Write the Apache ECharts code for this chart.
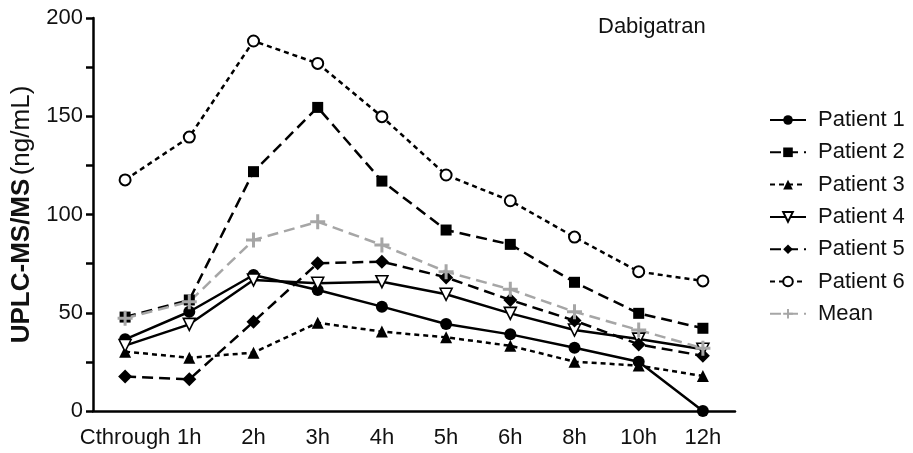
<!DOCTYPE html>
<html>
<head>
<meta charset="utf-8">
<script src="https://cdn.jsdelivr.net/npm/echarts@6/dist/echarts.min.js"></script>
<style>html,body{margin:0;padding:0;background:#fff}#c{width:913px;height:453px}</style>
</head>
<body>
<div id="c"></div>
<script>
const categories = ['Cthrough','1h','2h','3h','4h','5h','6h','8h','10h','12h'];
const patient1 = [36.5, 50.5, 69.2, 61.6, 53.1, 44.3, 39.0, 32.2, 25.1, 0];
const patient2 = [47.8, 56.5, 121.8, 154.5, 117.0, 92.1, 84.8, 65.5, 49.7, 42.1];
const patient3 = [30.2, 27.1, 29.7, 44.9, 40.4, 37.5, 33.2, 25.1, 23.1, 17.8];
const patient4 = [33.3, 44.1, 66.7, 65.0, 65.8, 59.4, 49.7, 41.2, 36.6, 31.4];
const patient5 = [17.5, 16.1, 45.4, 75.2, 76.0, 68.0, 56.5, 46.0, 33.9, 28.1];
const patient6 = [117.6, 139.4, 188.3, 176.9, 149.8, 120.1, 107.0, 88.5, 70.9, 66.2];
const meanVals = [47.2, 55.6, 87.0, 96.3, 84.5, 70.9, 61.9, 50.5, 41.2, 31.9];
const yTicks = [0, 50, 100, 150, 200];

const FONT = 'Liberation Sans, Arial, sans-serif';
const PLUS = 'path://M4,0 H6 V4 H10 V6 H6 V10 H4 V6 H0 V4 H4 Z';

function mk(name, data, opts) {
  return Object.assign({
    name: name,
    type: 'line',
    data: data,
    symbolSize: 10,
    lineStyle: { color: '#000', width: 2.5, type: opts.dash || 'solid' },
    itemStyle: { color: '#000', borderColor: '#000', borderWidth: 0 },
    emphasis: { disabled: true },
    animation: false
  }, opts.extra || {});
}

const series = [
  mk('Patient 1', patient1, { extra: { symbol: 'circle', symbolSize: 12 } }),
  mk('Patient 2', patient2, { dash: [11, 6], extra: { symbol: 'rect', symbolSize: 11 } }),
  mk('Patient 3', patient3, { dash: [5, 4], extra: { symbol: 'triangle', symbolSize: 12 } }),
  mk('Patient 4', patient4, { extra: { symbol: 'triangle', symbolRotate: 180, symbolSize: 12,
      itemStyle: { color: '#fff', borderColor: '#000', borderWidth: 1.6 } } }),
  mk('Patient 5', patient5, { dash: [11, 6], extra: { symbol: 'diamond', symbolSize: 14 } }),
  mk('Patient 6', patient6, { dash: [5, 4], extra: { symbol: 'emptyCircle', symbolSize: 11,
      itemStyle: { color: '#000', borderColor: '#000', borderWidth: 2.4 } } }),
  mk('Mean', meanVals, { dash: [11, 6], extra: { symbol: PLUS, symbolSize: 15,
      lineStyle: { color: '#a6a6a6', width: 2.5, type: [11, 6] },
      itemStyle: { color: '#a6a6a6', borderWidth: 0 } } })
];

const chart = echarts.init(document.getElementById('c'));
chart.setOption({
  backgroundColor: '#fff',
  animation: false,
  textStyle: { fontFamily: FONT },
  title: {
    text: 'Dabigatran', left: 593, top: 11,
    textStyle: { fontFamily: FONT, fontSize: 22, fontWeight: 'normal', color: '#111' }
  },
  legend: {
    orient: 'vertical', left: 764, top: 104,
    itemWidth: 36, itemHeight: 12, itemGap: 10.3,
    textStyle: { fontFamily: FONT, fontSize: 22, color: '#111', padding: [0, 0, 0, 7] },
    data: series.map(s => s.name)
  },
  grid: { left: 93, right: 178, top: 18, bottom: 42, containLabel: false },
  xAxis: {
    type: 'category', data: categories, boundaryGap: true,
    axisLine: { lineStyle: { color: '#000', width: 2.5 } },
    axisTick: { alignWithLabel: true, length: 7, lineStyle: { color: '#000', width: 2.5 } },
    axisLabel: { fontFamily: FONT, fontSize: 22, color: '#111', margin: 16, interval: 0 },
    splitLine: { show: false }
  },
  yAxis: {
    type: 'value', min: yTicks[0], max: yTicks[yTicks.length - 1], interval: 50,
    name: '{b|UPLC-MS/MS} {n|(ng/mL)}',
    nameLocation: 'middle', nameGap: 58, nameRotate: 90,
    nameTextStyle: {
      rich: {
        b: { fontFamily: FONT, fontSize: 26, fontWeight: 'bold', color: '#111' },
        n: { fontFamily: FONT, fontSize: 26, fontWeight: 'normal', color: '#111' }
      }
    },
    axisLine: { show: true, lineStyle: { color: '#000', width: 2.5 } },
    axisTick: { show: true, length: 7, lineStyle: { color: '#000', width: 2.5 } },
    minorTick: { show: true, splitNumber: 2, length: 7, lineStyle: { color: '#000', width: 2.5 } },
    axisLabel: { fontFamily: FONT, fontSize: 22, color: '#111', margin: 10,
      formatter: v => yTicks.indexOf(v) >= 0 ? String(v) : '' },
    splitLine: { show: false }
  },
  series: series
});
</script>
</body>
</html>
